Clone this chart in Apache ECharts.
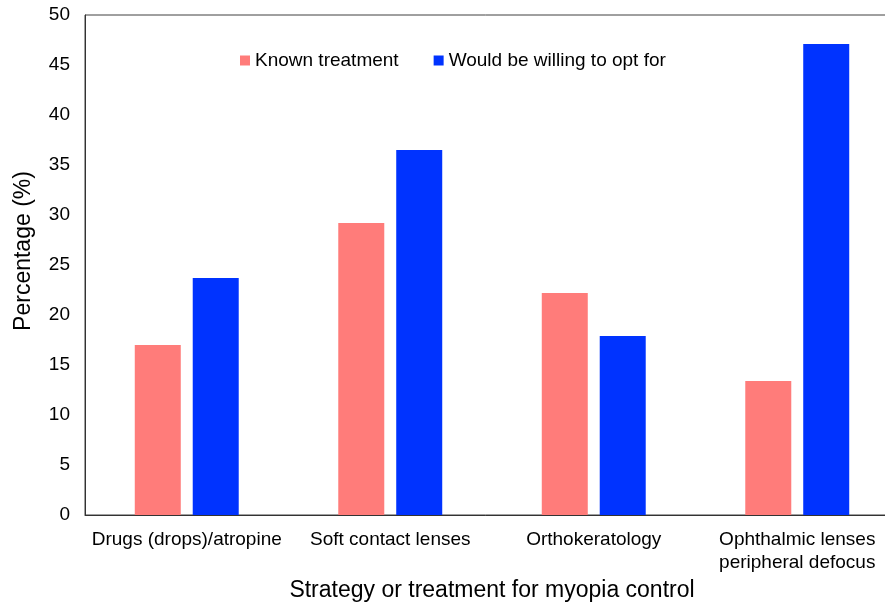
<!DOCTYPE html>
<html>
<head>
<meta charset="utf-8">
<script src="https://cdn.jsdelivr.net/npm/echarts@6/dist/echarts.min.js"></script>
<style>
  html, body { margin: 0; padding: 0; background: #fff; }
  #chart { width: 885px; height: 604px; }
</style>
</head>
<body>
<div id="chart"></div>
<script>
// Strategies for myopia control
const categories = [
  'Drugs (drops)/atropine',
  'Soft contact lenses',
  'Orthokeratology',
  'Ophthalmic lenses\nperipheral defocus'
];
const knownTreatment = [17.0, 29.2, 22.2, 13.4];
const willingToOptFor = [23.7, 36.5, 17.9, 47.1];
const seriesNames = ['Known treatment', 'Would be willing to opt for'];
const yTicks = { min: 0, max: 50, step: 5 };

const FONT = '"Liberation Sans", Arial, sans-serif';

const chart = echarts.init(document.getElementById('chart'), null, { renderer: 'canvas' });

chart.setOption({
  animation: false,
  backgroundColor: '#ffffff',
  textStyle: { fontFamily: FONT, color: '#000' },
  grid: {
    left: 85, top: 15, bottom: 89, width: 814,
    outerBoundsMode: 'none',
    containLabel: false,
    show: true, borderColor: '#404040', borderWidth: 1, backgroundColor: 'transparent'
  },
  legend: {
    data: seriesNames,
    top: 46,
    left: 235,
    itemWidth: 10,
    itemHeight: 10,
    itemGap: 35,
    icon: 'rect',
    textStyle: { fontFamily: FONT, fontSize: 19, color: '#000' }
  },
  graphic: [{
    type: 'text',
    x: 24, y: 251,
    rotation: Math.PI / 2,
    style: {
      text: 'Percentage (%)',
      font: '23px ' + FONT,
      fill: '#000',
      align: 'center',
      verticalAlign: 'middle'
    }
  }],
  xAxis: {
    type: 'category',
    data: categories,
    name: 'Strategy or treatment for myopia control',
    nameLocation: 'middle',
    nameGap: 62,
    nameTextStyle: { fontFamily: FONT, fontSize: 23, color: '#000' },
    axisLine: { show: true, lineStyle: { color: '#333', width: 1 } },
    axisTick: { show: false },
    axisLabel: { margin: 13, fontSize: 19, color: '#000', lineHeight: 23, interval: 0 },
    splitLine: { show: false }
  },
  yAxis: {
    type: 'value',
    min: yTicks.min,
    max: yTicks.max,
    interval: yTicks.step,
    axisLine: { show: true, lineStyle: { color: '#333', width: 1 } },
    axisTick: { show: false },
    axisLabel: { margin: 15, fontSize: 19, color: '#000' },
    splitLine: { show: false }
  },
  series: [
    {
      name: seriesNames[0],
      type: 'bar',
      data: knownTreatment,
      barWidth: 46,
      barGap: '26%',
      itemStyle: { color: '#FF7C7A' }
    },
    {
      name: seriesNames[1],
      type: 'bar',
      data: willingToOptFor,
      barWidth: 46,
      itemStyle: { color: '#0033FF' }
    }
  ]
});
</script>
</body>
</html>
